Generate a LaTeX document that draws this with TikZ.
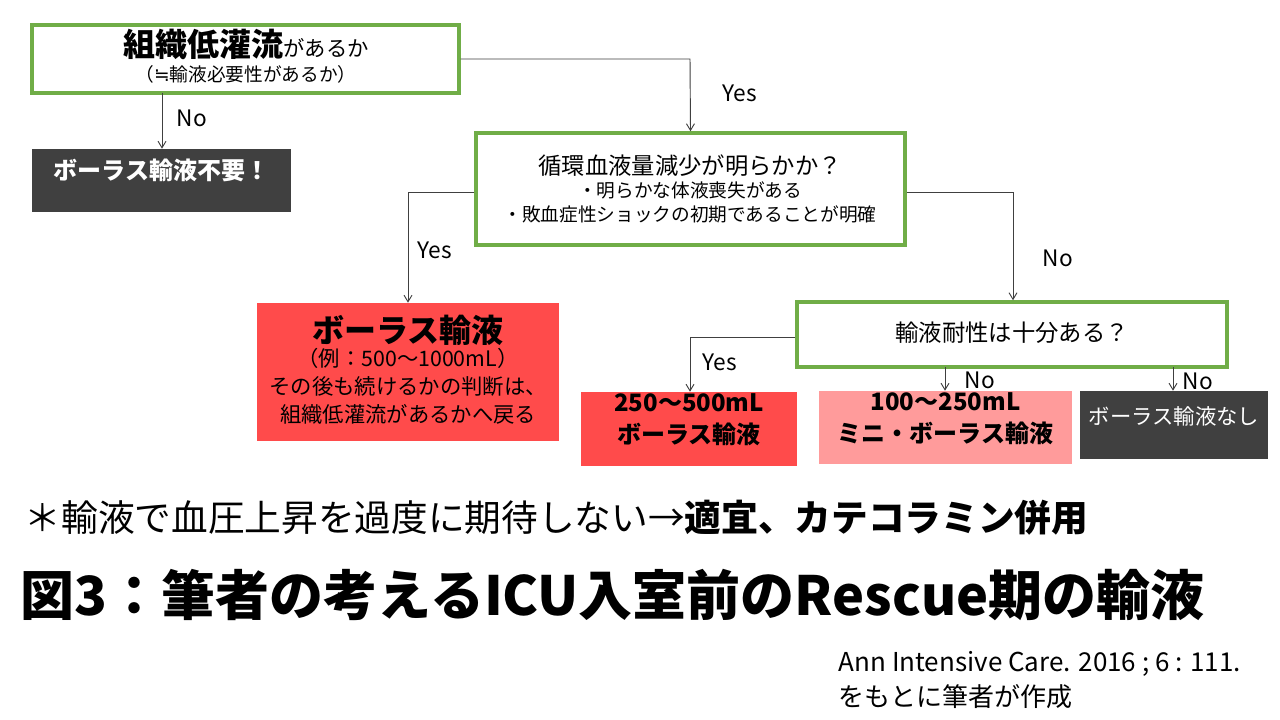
\documentclass[tikz,border=0pt]{standalone}
\usepackage{fontspec}
\setmainfont{Noto Sans CJK JP}
\newfontfamily\djv{DejaVu Sans}
\usetikzlibrary{fit,arrows.meta}
\definecolor{grn}{HTML}{70AD47}
\definecolor{dk}{HTML}{404040}
\definecolor{rd}{HTML}{FF4B4B}
\definecolor{pk}{HTML}{FF9B9B}
\begin{document}
\begin{tikzpicture}[x=0.75pt,y=-0.75pt,
  gbox/.style={draw=grn,line width=2.6pt,fill=white,inner sep=0pt,align=center},
  fbox/.style={fill=#1,inner sep=0pt,align=center},
  con/.style={draw=dk,line width=0.7pt,-{Straight Barb[length=5pt,width=6pt]}},
  lab/.style={font=\fontsize{17}{19}\selectfont,text=black}]
\useasboundingbox[fill=white] (0,0) rectangle (1280,720);
\node[gbox,fit={(32,25)(459,93)}] (b1) {};
\node at (246,44) {\fontsize{24}{26}\selectfont\bfseries 組織低灌流\fontsize{16}{18}\selectfont\mdseries があるか};
\node at (246,74) {\fontsize{14}{16}\selectfont （{\djv ≒}輸液必要性があるか）};
\node[fbox=dk,fit={(32,149)(291,212)},text=white,font=\fontsize{18}{20}\selectfont\bfseries] (n1) {ボーラス輸液不要！};
\node[gbox,fit={(476,133)(905,245)}] (b2) {};
\node at (690,166) {\fontsize{17.5}{19}\selectfont 循環血液量減少が明らかか？};
\node at (690,190) {\fontsize{14}{16}\selectfont ・明らかな体液喪失がある};
\node at (690,214) {\fontsize{14}{16}\selectfont ・敗血症性ショックの初期であることが明確};
\node[fbox=rd,fit={(257,303)(559,441)}] (r1) {};
\node at (408,330) {\fontsize{24}{26}\selectfont\bfseries ボーラス輸液};
\node at (408,358) {\fontsize{16}{18}\selectfont （例：500〜1000mL）};
\node at (408,386) {\fontsize{16}{18}\selectfont その後も続けるかの判断は、};
\node at (408,414) {\fontsize{16}{18}\selectfont 組織低灌流があるかへ戻る};
\node[gbox,fit={(797,302)(1227,367)}] (b3) {};
\node at (1012,333) {\fontsize{17.5}{19}\selectfont 輸液耐性は十分ある？};
\node[fbox=rd,fit={(581,392)(797,466)},font=\fontsize{18}{24}\selectfont\bfseries] (r2) {250〜500mL\\ボーラス輸液};
\node[fbox=pk,fit={(819,391)(1072,464)},font=\fontsize{18}{24}\selectfont\bfseries] (r3) {100〜250mL\\ミニ・ボーラス輸液};
\node[fbox=dk,fit={(1080,391)(1268,459)},text=white,font=\fontsize{16}{18}\selectfont] (r4) {ボーラス輸液なし};
\draw[con] (162,93) -- (n1.north -| 162,0);
\node[lab] at (192,118) {No};
\draw[con] (b1.east |- 0,59) -- (690,59) -- (b2.north);
\node[lab] at (740,93) {Yes};
\draw[con] (b2.west |- 0,192) -- (408,192) -- (r1.north);
\node[lab] at (435,250) {Yes};
\draw[con] (b2.east |- 0,192) -- (1013,192) -- (b3.north -| 1013,0);
\node[lab] at (1058,258) {No};
\draw[con] (b3.west |- 0,337) -- (690,337) -- (r2.north -| 690,0);
\node[lab] at (720,362) {Yes};
\draw[con] (945,367) -- (r3.north -| 945,0);
\node[lab] at (980,380) {No};
\draw[con] (1173,367) -- (r4.north -| 1173,0);
\node[lab] at (1198,381) {No};
\node[anchor=west,font=\fontsize{27.5}{30}\selectfont] (t1) at (20,518) {＊輸液で血圧上昇を過度に期待しない→\bfseries 適宜、カテコラミン併用};
\node[anchor=west,font=\fontsize{40.5}{44}\selectfont\bfseries] (t2) at (16,595) {図3：筆者の考えるICU入室前のRescue期の輸液};
\node[anchor=north west,align=left,font=\fontsize{19.5}{26}\selectfont] (t3) at (834,647) {Ann Intensive Care. 2016 ; 6 : 111.\\をもとに筆者が作成};
\end{tikzpicture}
\end{document}
